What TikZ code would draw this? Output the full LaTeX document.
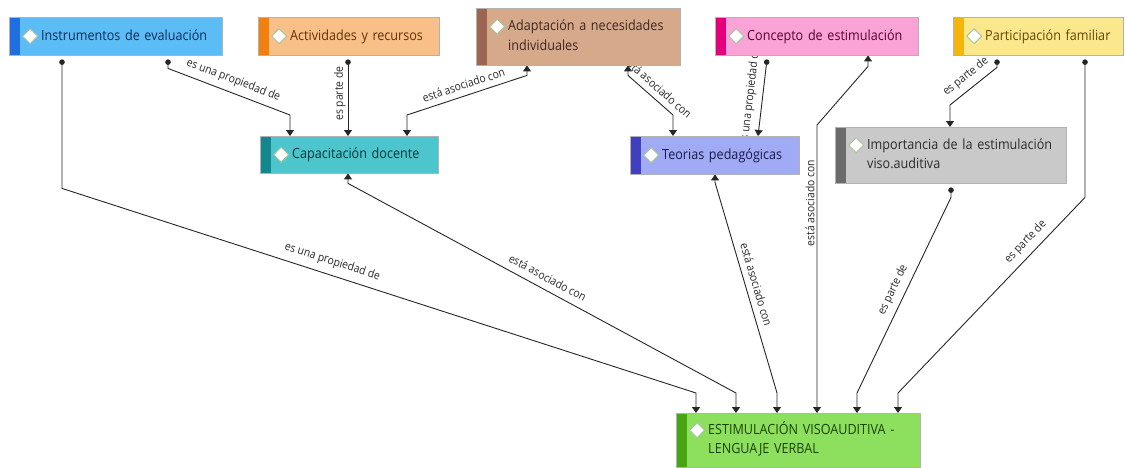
\documentclass[tikz,border=0pt]{standalone}
\usepackage{fontspec}
\setmainfont{Open Sans}[FakeStretch=0.9]
\usetikzlibrary{arrows.meta, positioning, backgrounds}

\definecolor{instrStrip}{HTML}{1F6FE0}
\definecolor{instrFill}{HTML}{5CBDF6}
\definecolor{activStrip}{HTML}{F2800F}
\definecolor{activFill}{HTML}{F9BF88}
\definecolor{adaptStrip}{HTML}{9C6552}
\definecolor{adaptFill}{HTML}{D6A98B}
\definecolor{concepStrip}{HTML}{E4007C}
\definecolor{concepFill}{HTML}{F9A3D7}
\definecolor{particStrip}{HTML}{F5B50A}
\definecolor{particFill}{HTML}{FBE88C}
\definecolor{capacStrip}{HTML}{13878E}
\definecolor{capacFill}{HTML}{4DC5CC}
\definecolor{teorStrip}{HTML}{3F3FBF}
\definecolor{teorFill}{HTML}{A1AAF5}
\definecolor{imporStrip}{HTML}{6B6B6B}
\definecolor{imporFill}{HTML}{C9C9C9}
\definecolor{estimStrip}{HTML}{48A512}
\definecolor{estimFill}{HTML}{8CE05D}
\definecolor{iconEdge}{HTML}{A9C49B}

\newcommand{\boxfont}{\fontsize{14}{19.5}\selectfont}
\newcommand{\relfont}{\fontsize{11.5}{13}\selectfont}
% small white diamond in front of every concept
\newcommand{\ico}{\tikz[baseline=-0.55ex]\draw[icon] (0,7.5pt) -- (7.5pt,0) -- (0,-7.5pt) -- (-7.5pt,0) -- cycle;}
\newcommand{\oneline}[1]{\mbox{\ico\hspace{3pt}#1}}
\newcommand{\twolines}[2]{\ico\hspace{3pt}\begin{tabular}[t]{@{}l@{}}#1\\#2\end{tabular}}

\tikzset{
  icon/.style={draw=iconEdge, fill=white, line width=1pt, line join=round},
  concept/.style 2 args={draw=black!30, fill=#2, text=#1!40!black,
    anchor=north west, align=left, inner xsep=13pt, inner ysep=0pt,
    font=\boxfont,
    path picture={\fill[#1] (path picture bounding box.north west)
      rectangle ([xshift=11pt]path picture bounding box.south west);}},
  rel/.style={font=\relfont, text=black!85, inner sep=2pt},
  link/.style={draw=black!85, line width=0.9pt},
  prop/.style={link, {Circle[length=5.5pt]}-{Triangle[width=8pt,length=6pt]}},
  assoc/.style={link, {Triangle[width=8pt,length=6pt]}-{Triangle[width=8pt,length=6pt]}},
}

\begin{document}
\begin{tikzpicture}[x=1pt, y=-1pt]
  \useasboundingbox (0,0) rectangle (1126,467);

  \node[concept={instrStrip}{instrFill}, text width=187pt, minimum height=38pt] (instr) at (9,17) {\oneline{Instrumentos de evaluación}};
  \node[concept={activStrip}{activFill}, text width=155pt, minimum height=38pt] (activ) at (258,17) {\oneline{Actividades y recursos}};
  \node[concept={adaptStrip}{adaptFill}, text width=178pt, minimum height=57pt] (adapt) at (476,8) {\twolines{Adaptación a necesidades}{individuales}};
  \node[concept={concepStrip}{concepFill}, text width=177pt, minimum height=38pt] (concep) at (715,17) {\oneline{Concepto de estimulación}};
  \node[concept={particStrip}{particFill}, text width=144pt, minimum height=38pt] (partic) at (953,17) {\oneline{Participación familiar}};
  \node[concept={capacStrip}{capacFill}, text width=152pt, minimum height=37pt] (capac) at (260,136) {\oneline{Capacitación docente}};
  \node[concept={teorStrip}{teorFill}, text width=143pt, minimum height=38pt] (teor) at (630,136) {\oneline{Teorias pedagógicas}};
  \node[concept={imporStrip}{imporFill}, text width=205pt, minimum height=56pt] (impor) at (835,127) {\twolines{Importancia de la estimulación}{viso.auditiva}};
  \node[concept={estimStrip}{estimFill}, text width=218pt, minimum height=54pt] (estim) at (676,413) {\twolines{ESTIMULACIÓN VISOAUDITIVA -}{LENGUAJE VERBAL}};

  \begin{scope}[on background layer]
    \draw[prop] ([xshift=53pt,yshift=-4pt]instr.south west) -- ++(0,129)
      -- node[rel, sloped, above=5pt, pos=0.42] {es una propiedad de} ([xshift=20pt,yshift=20pt]estim.north west)
      -- ([xshift=20pt]estim.north west);
    \draw[prop] ([xshift=159pt,yshift=-4pt]instr.south west) -- ++(0,9)
      -- node[rel, sloped, above=4pt] {es una propiedad de} ([xshift=30pt,yshift=21pt]capac.north west)
      -- ([xshift=30pt]capac.north west);
    \draw[prop] ([xshift=90pt,yshift=-4pt]activ.south west)
      -- node[rel, rotate=90, above=4pt] {es parte de} ([xshift=88pt]capac.north west);
    \draw[assoc] ([xshift=51pt]adapt.south west) -- ++(0,10)
      -- node[rel, sloped, above=4pt] {está asociado con} ([xshift=147pt,yshift=21pt]capac.north west)
      -- ([xshift=147pt]capac.north west);
    \draw[assoc] ([xshift=152pt]adapt.south west) -- ++(0,10)
      -- node[rel, sloped, above=4pt] {está asociado con} ([xshift=43pt,yshift=21pt]teor.north west)
      -- ([xshift=43pt]teor.north west);
    \draw[assoc] ([xshift=88pt]capac.south west) -- ++(0,10)
      -- node[rel, sloped, above=5pt, pos=0.5] {está asociado con} ([xshift=60pt,yshift=20pt]estim.north west)
      -- ([xshift=60pt]estim.north west);
    \draw[prop] ([xshift=52pt,yshift=-4pt]concep.south west)
      -- node[rel, sloped, above=4pt] {es una propiedad de} ([xshift=128pt]teor.north west);
    \draw[assoc] ([xshift=85pt]teor.south west) -- ++(0,8)
      -- node[rel, sloped, above=4pt] {está asociado con} ([xshift=101pt,yshift=20pt]estim.north west)
      -- ([xshift=101pt]estim.north west);
    \draw[assoc] ([xshift=153pt]concep.south west) -- ++(0,11)
      -- ([xshift=141pt,yshift=288pt]estim.north west)
      -- node[rel, rotate=90, above=4pt, pos=0.285] {está asociado con} ([xshift=141pt]estim.north west);
    \draw[prop] ([xshift=116pt,yshift=-4pt]impor.south west) -- ++(0,10)
      -- node[rel, sloped, above=4pt] {es parte de} ([xshift=181pt,yshift=20pt]estim.north west)
      -- ([xshift=181pt]estim.north west);
    \draw[prop] ([xshift=132pt,yshift=-4pt]partic.south west) -- ++(0,138)
      -- node[rel, sloped, above=4pt, pos=0.27] {es parte de} ([xshift=222pt,yshift=20pt]estim.north west)
      -- ([xshift=222pt]estim.north west);
    \draw[prop] ([xshift=44pt,yshift=-4pt]partic.south west) -- ++(0,8)
      -- node[rel, sloped, above=4pt] {es parte de} ([xshift=115pt,yshift=22pt]impor.north west)
      -- ([xshift=115pt]impor.north west);
  \end{scope}
\end{tikzpicture}
\end{document}
